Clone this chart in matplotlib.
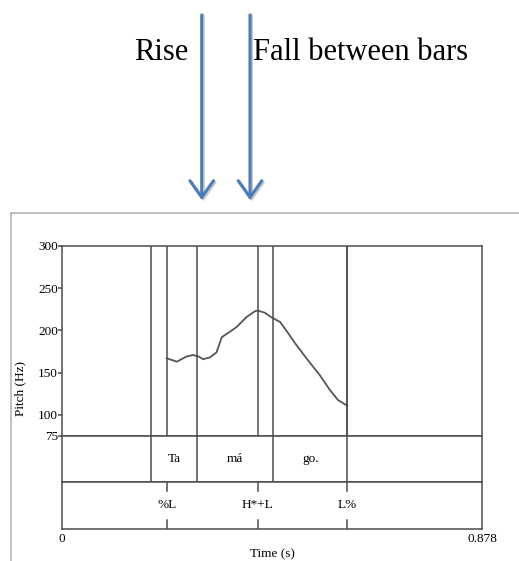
import matplotlib
matplotlib.use("Agg")
import matplotlib.pyplot as plt
from matplotlib.lines import Line2D
from matplotlib.patches import FancyArrowPatch

# pitch track (s, Hz)
times = [0.219, 0.240, 0.260, 0.274, 0.286, 0.295, 0.309, 0.323, 0.334,
         0.351, 0.365, 0.386, 0.404, 0.409, 0.424, 0.438, 0.456, 0.473,
         0.487, 0.511, 0.539, 0.560, 0.577, 0.596]
pitch = [167, 163, 169, 171, 169, 166, 168, 174, 192,
         198.5, 204, 216, 223, 223.5, 221, 215.5, 210, 196.6,
         185, 167, 147, 129.5, 117.6, 111]

t_end = 0.878
word_bounds = [0.186, 0.282, 0.442, 0.596]
words = ["Ta", "má", "go."]
tone_times = [0.219, 0.409, 0.596]
tones = ["%L", "H*+L", "L%"]
y_ticks = [75, 100, 150, 200, 250, 300]

W, H = 519, 561
fig = plt.figure(figsize=(W / 100, H / 100), dpi=100)
plt.rcParams['font.family'] = ['Liberation Serif', 'DejaVu Serif']

lc = '#4d4d4d'
lw = 1.1
fs = 9.5

def box(x0, y0, x1, y1):
    # pixel box (top-left origin) -> figure fraction
    return [x0 / W, 1 - y1 / H, (x1 - x0) / W, (y1 - y0) / H]

# 外框 (light gray frame)
fig.add_artist(Line2D([11 / W, 11 / W], [0, 1 - 213 / H], color='#b5b5b5', lw=1.2))
fig.add_artist(Line2D([11 / W, 1], [1 - 213 / H, 1 - 213 / H], color='#b5b5b5', lw=1.2))

ax = fig.add_axes(box(62, 246, 482, 436))
t1 = fig.add_axes(box(62, 436, 482, 482))
t2 = fig.add_axes(box(62, 482, 482, 529))

for a in (ax, t1, t2):
    a.set_xlim(0, t_end)
    for s in a.spines.values():
        s.set_color(lc)
        s.set_linewidth(lw)
    a.set_xticks([])
    a.set_yticks([])

# pitch panel
ax.set_ylim(75, 300)
ax.plot(times, pitch, color='#555555', lw=1.3)
for b in word_bounds:
    ax.axvline(b, color=lc, lw=lw)
for t in tone_times:
    ax.axvline(t, color=lc, lw=lw)
ax.set_yticks(y_ticks)
ax.set_yticklabels([str(v) for v in y_ticks], fontsize=fs)
ax.tick_params(axis='y', length=3, width=lw, color=lc, pad=0)
ax.set_ylabel("Pitch (Hz)", fontsize=fs)
ax.yaxis.set_label_coords(-0.085, 0.25)

# word tier
t1.set_ylim(0, 1)
for b in word_bounds:
    t1.axvline(b, color=lc, lw=lw)
for i, w in enumerate(words):
    t1.text((word_bounds[i] + word_bounds[i + 1]) / 2, 0.5, w,
            ha='center', va='center', fontsize=fs)

# tone tier
t2.set_ylim(0, 1)
for t, lab in zip(tone_times, tones):
    t2.plot([t, t], [1, 0.8], color=lc, lw=lw)
    t2.plot([t, t], [0, 0.2], color=lc, lw=lw)
    t2.text(t, 0.5, lab, ha='center', va='center', fontsize=fs)

t2.text(0, -0.08, "0", ha='center', va='top', fontsize=fs, transform=t2.transAxes)
t2.text(1, -0.08, f"{t_end}", ha='center', va='top', fontsize=fs,
        transform=t2.transAxes)
t2.text(0.5, -0.42, "Time (s)", ha='center', va='top', fontsize=fs,
        transform=t2.transAxes)

# annotation arrows (with a faint shadow)
blue = '#4a7ebb'
for xp in (201.7, 250):
    for dx, col, z in ((1.5, '#c8c8c8', 1), (0, blue, 2)):
        arr = FancyArrowPatch((xp + dx, H - 15), (xp + dx, H - 200 - 1.5 * (dx > 0)),
                              arrowstyle='->,head_length=12,head_width=8.5',
                              mutation_scale=1, color=col, lw=2.2, zorder=z,
                              shrinkA=0, shrinkB=0, transform=None)
        fig.add_artist(arr)

fig.text(188 / W, 1 - 52 / H, "Rise", ha='right', va='center', fontsize=22)
fig.text(253 / W, 1 - 52 / H, "Fall between bars", ha='left', va='center', fontsize=22)

fig.savefig("out.png", dpi=100)
